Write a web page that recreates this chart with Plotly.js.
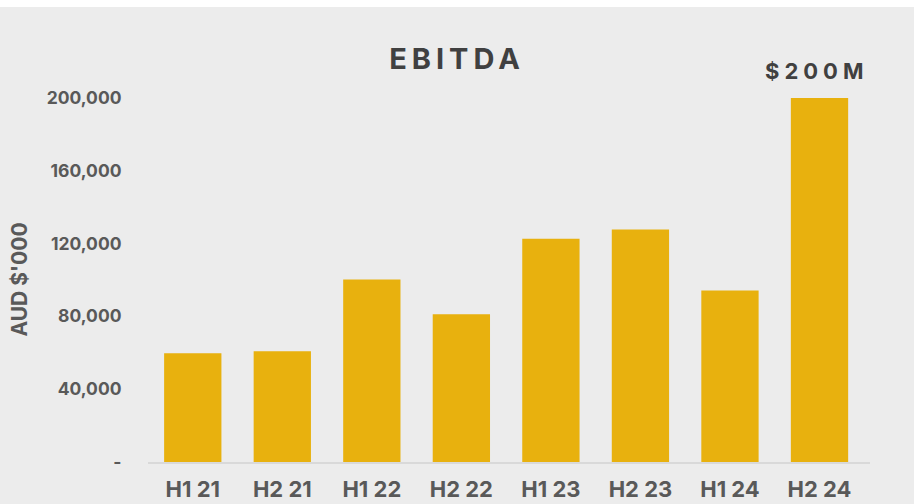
<!DOCTYPE html>
<html><head><meta charset="utf-8">
<script src="https://cdn.plot.ly/plotly-3.0.1.min.js"></script>
<style>
html,body{margin:0;padding:0;background:#fff;}
#chart{position:absolute;top:7px;left:0;width:914px;height:497px;}
.gtitle{letter-spacing:5px;}
.annotation-text{letter-spacing:5px;}
</style>
</head><body>
<div id="chart"></div>
<script>
const categories = ["H1 21","H2 21","H1 22","H2 22","H1 23","H2 23","H1 24","H2 24"];
const ebitda = [59700, 60800, 100300, 81100, 122700, 127700, 94200, 200000];
const yTickVals = [0, 40000, 80000, 120000, 160000, 200000];
const yTickText = ["-", "40,000", "80,000", "120,000", "160,000", "200,000"];
const topLabel = "$200M";

const trace = {
  type: "bar", x: categories, y: ebitda,
  marker: {color: "#e8b10e"},
  hoverinfo: "skip", cliponaxis: false
};
const layout = {
  width: 914, height: 497,
  paper_bgcolor: "#ececec", plot_bgcolor: "#ececec",
  margin: {l: 148, r: 44, t: 90, b: 42},
  bargap: 0.36,
  showlegend: false,
  font: {family: "Inter, Roboto, sans-serif", color: "#595959"},
  title: {text: "<b>EBITDA</b>", x: 0.5, xanchor: "center", y: 0.895, yanchor: "middle",
          font: {size: 29, color: "#404040", family: "Inter, Roboto, sans-serif"}},
  xaxis: {
    type: "category", showgrid: false, zeroline: false,
    showline: true, linecolor: "#d9d9d9", linewidth: 2,
    tickfont: {size: 22, color: "#595959", weight: "bold"},
    ticks: "outside", ticklen: 7, tickcolor: "rgba(0,0,0,0)"
  },
  yaxis: {
    range: [0, 200500], showgrid: false, zeroline: false, showline: false,
    tickvals: yTickVals, ticktext: yTickText,
    tickfont: {size: 17.5, color: "#595959", weight: "bold"},
    ticks: "outside", ticklen: 22, tickcolor: "rgba(0,0,0,0)",
    title: {text: "<b>AUD $'000</b>", standoff: 13, font: {size: 21, color: "#595959"}}
  },
  annotations: [{
    x: categories[7], y: ebitda[7], xref: "x", yref: "y",
    text: "<b>" + topLabel + "</b>", showarrow: false,
    yanchor: "bottom", yshift: 12, xshift: -3,
    font: {size: 22, color: "#404040", family: "Inter, Roboto, sans-serif"}
  }]
};
Plotly.newPlot("chart", [trace], layout, {displayModeBar: false, staticPlot: true});
</script>
</body></html>
